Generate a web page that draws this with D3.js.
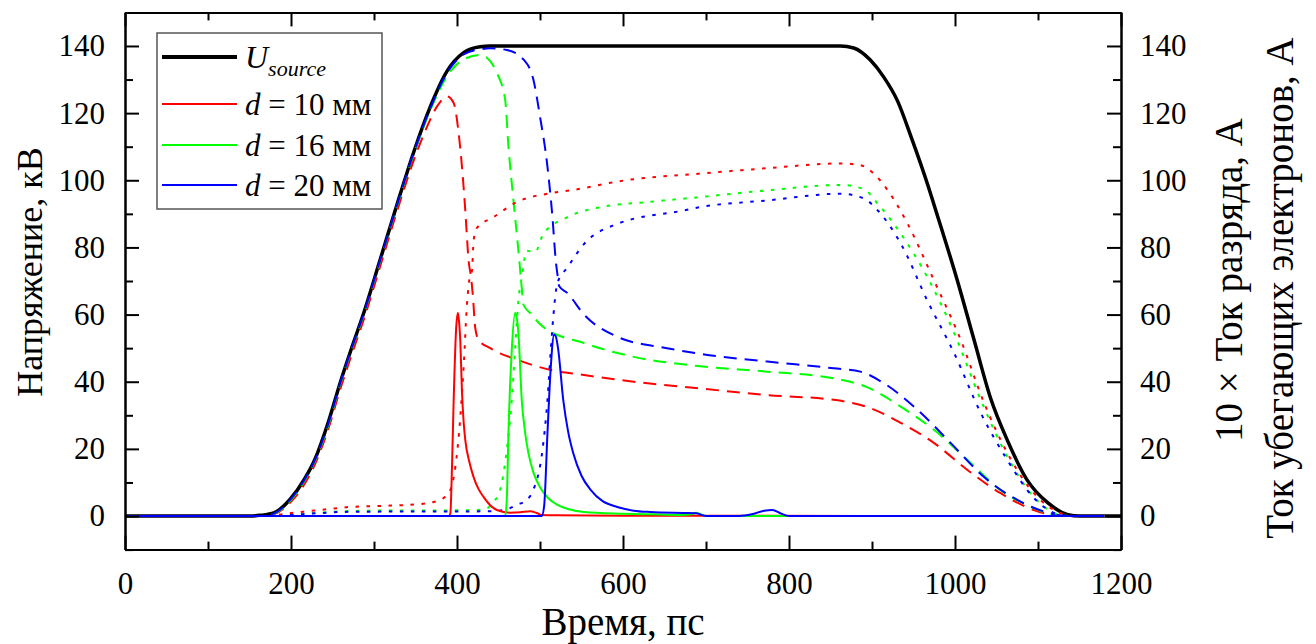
<!DOCTYPE html>
<html>
<head>
<meta charset="utf-8">
<script src="https://cdn.jsdelivr.net/npm/d3@7"></script>
<style>
    body { margin: 0; background: #fff; }
    svg, svg text { font-family: "Liberation Serif", "Times New Roman", Tinos, "Noto Serif", "DejaVu Serif", serif; }
</style>
</head>
<body>
<div id="chart"></div>
<script>
// source voltage
var tU = [0, 150, 163, 180, 199, 215, 229, 245, 259, 273, 287, 307, 328, 348, 368, 388, 408, 428, 440, 862, 878, 898, 914, 931, 947, 968, 975, 1003, 1023, 1043, 1063, 1087, 1112, 1136, 1150, 1200];
var vU = [0, 0, 0.2, 1, 5, 10.5, 17, 28, 39.5, 50, 60, 76, 93, 108.5, 122, 132.5, 138, 139.8, 140, 140, 139.4, 135.8, 130.8, 123.5, 113, 98, 92.5, 70, 52.4, 35, 22.6, 10.7, 3.9, 0.4, 0, 0];

// gap voltage (dashed)
var tDash10 = [0, 165, 180, 199, 215, 229, 245, 259, 273, 287, 307, 328, 348, 364, 376, 388, 396, 402, 406, 410, 414, 417, 419, 422, 426, 440, 473, 513, 553, 613, 693, 774, 854, 894, 935, 975, 1015, 1055, 1095, 1128, 1180];
var vDash10 = [0, 0, 0.6, 4, 9, 15.5, 26, 37.5, 48, 58, 74, 91, 106, 116, 122, 125, 123, 114, 104, 91, 76, 71, 66, 56, 52.5, 50, 46.5, 43.5, 42, 40, 38, 36, 34.6, 32.5, 27.7, 21.7, 13.7, 6.8, 1.8, 0, 0];
var tDash16 = [0, 165, 180, 199, 215, 229, 245, 259, 273, 287, 307, 328, 348, 368, 388, 408, 428, 436, 448, 458, 462, 468, 474, 478, 480, 488, 504, 553, 613, 693, 774, 854, 894, 935, 975, 1015, 1055, 1095, 1128, 1180];
var vDash16 = [0, 0, 0.7, 4.5, 10, 16.5, 27, 39, 49.5, 59.5, 75.5, 92.5, 108, 121, 131, 136, 137.3, 136.5, 132, 124, 110, 94, 79, 68, 63, 60.5, 56.3, 51.5, 47.4, 44.6, 43, 41, 38.4, 32.5, 25.6, 16.7, 7.7, 2.4, 0, 0];
var tDash20 = [0, 165, 180, 199, 215, 229, 245, 259, 273, 287, 307, 328, 348, 368, 388, 408, 428, 440, 460, 480, 492, 500, 509, 515, 519, 521, 523, 533, 553, 593, 653, 693, 774, 854, 886, 914, 955, 995, 1035, 1075, 1115, 1135, 1180];
var vDash20 = [0, 0, 0.8, 4.8, 10.3, 16.8, 27.5, 39.3, 49.8, 59.8, 75.8, 92.8, 108.3, 121.5, 132, 137.5, 139, 139.3, 138.8, 136, 130, 119, 104, 89, 76, 72, 68.5, 66.4, 60, 53.4, 50, 48.3, 46, 44, 43, 39.6, 31.6, 21.7, 11.6, 4.8, 0.8, 0, 0];

// 10 x discharge current (dotted)
var tDot10 = [0, 170, 191, 215, 243, 271, 292, 320, 352, 372, 384, 392, 398, 404, 408, 412, 416, 418, 420, 424, 444, 472, 509, 537, 603, 693, 774, 862, 886, 902, 919, 943, 975, 1007, 1035, 1063, 1095, 1128, 1145, 1180];
var vDot10 = [0, 0, 0.6, 1.3, 2, 2.7, 2.9, 3.1, 3.5, 4.2, 5.4, 7.8, 14.6, 29.5, 44.4, 63, 72, 73, 82, 85.8, 89, 93.5, 96, 97, 100, 102, 103.6, 105, 104.5, 102, 97, 87, 70, 52.4, 33.7, 18.8, 6.8, 0.8, 0, 0];
var tDot16 = [0, 180, 200, 230, 260, 300, 400, 432, 444, 452, 460, 466, 470, 474, 478, 484, 494, 504, 533, 573, 633, 693, 774, 862, 890, 907, 935, 967, 999, 1031, 1063, 1095, 1128, 1145, 1180];
var vDot16 = [0, 0, 0.3, 0.9, 1.4, 1.6, 1.7, 1.9, 4.2, 7.8, 19.7, 34.6, 49.5, 64.3, 71, 79, 78.6, 84, 89, 92, 93.6, 95, 97, 98.6, 97.4, 93, 84, 71, 54.5, 34.6, 17.7, 5.7, 0.3, 0, 0];
var tDot20 = [0, 180, 200, 230, 260, 300, 440, 460, 472, 485, 492, 503, 509, 513, 516, 521, 533, 553, 593, 673, 693, 774, 862, 890, 907, 935, 967, 999, 1031, 1063, 1095, 1128, 1145, 1180];
var vDot20 = [0, 0, 0.3, 0.8, 1.2, 1.3, 1.4, 2, 3.3, 5, 7.8, 19.7, 34.6, 49.5, 59.3, 69.4, 74, 81, 87, 91, 92, 94, 96, 94.6, 91, 81, 64, 48.5, 30.7, 16.7, 5.4, 0.3, 0, 0];

// runaway electron current (solid)
var tSol10 = [0, 390, 392, 394, 396, 399, 401, 402, 404, 406, 408, 410, 415, 420, 426, 432, 440, 448, 464, 476, 488, 496, 502, 520, 600, 1180];
var vSol10 = [0, 0, 0.8, 15, 34.6, 56, 60.5, 59, 52, 37, 28, 22.6, 16, 11.6, 8, 5.7, 3.2, 1.8, 1.0, 1.1, 1.4, 0.9, 0.3, 0.2, 0.1, 0];
var tSol16 = [0, 458, 460, 462, 466, 470, 472, 474, 478, 482, 486, 492, 500, 510, 521, 535, 553, 600, 633, 670, 682, 688, 694, 700, 1180];
var vSol16 = [0, 0, 5, 24.7, 49.5, 60.5, 59, 54.5, 34.6, 25, 18.8, 13, 8.6, 5.3, 3.3, 2, 1.2, 0.7, 0.5, 0.3, 0.5, 1, 0.5, 0, 0];
var tSol20 = [0, 502, 505, 509, 513, 517, 519, 522, 528, 534, 540, 550, 561, 575, 593, 613, 633, 673, 688, 700, 740, 755, 770, 780, 790, 800, 1180];
var vSol20 = [0, 0, 3, 24.7, 44.4, 54, 53.5, 49.5, 34.6, 25, 18.8, 12, 7.8, 4.5, 2.7, 1.6, 1.2, 0.9, 0.8, 0, 0, 0.5, 1.6, 1.8, 0.8, 0, 0];

var xTicks = [0, 200, 400, 600, 800, 1000, 1200];
var yTicks = [0, 20, 40, 60, 80, 100, 120, 140];
var legendLabels = ["10", "16", "20"];

var width = 1316, height = 644,
    margin = { top: 12.4, right: 195, bottom: 94.4, left: 125 },
    colors = ["#ff0000", "#00ff00", "#0000ff"],
    serif = "'Liberation Serif', 'Times New Roman', Tinos, 'Noto Serif', 'DejaVu Serif', serif";

function zip(t, v) {
    return t.map(function (d, i) { return { t: d, v: v[i] }; });
}

var svg = d3.select("#chart").append("svg")
    .attr("width", width)
    .attr("height", height)
    .attr("font-family", serif);

var x = d3.scaleLinear().domain([0, 1200]).range([margin.left, width - margin.right]);
var y = d3.scaleLinear().domain([-10, 150]).range([height - margin.bottom, margin.top]);

var line = d3.line()
    .x(function (d) { return x(d.t); })
    .y(function (d) { return y(d.v); })
    .curve(d3.curveMonotoneX);

// curves
svg.append("path")
    .datum(zip(tU, vU))
    .attr("fill", "none")
    .attr("stroke", "#000")
    .attr("stroke-width", 3.5)
    .attr("stroke-linejoin", "round")
    .attr("d", line);

var dashed = [zip(tDash10, vDash10), zip(tDash16, vDash16), zip(tDash20, vDash20)];
var dotted = [zip(tDot10, vDot10), zip(tDot16, vDot16), zip(tDot20, vDot20)];
var solid = [zip(tSol10, vSol10), zip(tSol16, vSol16), zip(tSol20, vSol20)];

function drawGroup(sets, dash) {
    sets.forEach(function (data, i) {
        svg.append("path")
            .datum(data)
            .attr("fill", "none")
            .attr("stroke", colors[i])
            .attr("stroke-width", 2)
            .attr("stroke-dasharray", dash)
            .attr("d", line);
    });
}
drawGroup(dashed, "13,8");
drawGroup(dotted, "3.5,7.5");
drawGroup(solid, null);

// axes
function styleAxis(g) {
    g.attr("font-family", serif);
    g.selectAll(".domain").attr("stroke", "#000").attr("stroke-width", 2);
    g.selectAll(".tick line").attr("stroke", "#000").attr("stroke-width", 2);
    g.selectAll("text").attr("font-family", serif).attr("font-size", 31).attr("fill", "#000");
}
var minorX = d3.range(100, 1200, 200);
var minorY = d3.range(-10, 150, 20);
var fmt = d3.format("d");

svg.append("g")
    .attr("transform", "translate(0," + y(-10) + ")")
    .call(d3.axisBottom(x).tickValues(xTicks).tickFormat(fmt).tickSizeInner(-14).tickSizeOuter(0).tickPadding(22))
    .call(styleAxis);
svg.append("g")
    .attr("transform", "translate(0," + y(-10) + ")")
    .call(d3.axisBottom(x).tickValues(minorX).tickSizeInner(-8).tickSizeOuter(0).tickFormat(""))
    .call(styleAxis);
svg.append("g")
    .attr("transform", "translate(0," + y(150) + ")")
    .call(d3.axisTop(x).tickValues(xTicks).tickSizeInner(-14).tickSizeOuter(0).tickFormat(""))
    .call(styleAxis);
svg.append("g")
    .attr("transform", "translate(0," + y(150) + ")")
    .call(d3.axisTop(x).tickValues(minorX).tickSizeInner(-8).tickSizeOuter(0).tickFormat(""))
    .call(styleAxis);
svg.append("g")
    .attr("transform", "translate(" + x(0) + ",0)")
    .call(d3.axisLeft(y).tickValues(yTicks).tickFormat(fmt).tickSizeInner(-14).tickSizeOuter(0).tickPadding(20))
    .call(styleAxis);
svg.append("g")
    .attr("transform", "translate(" + x(0) + ",0)")
    .call(d3.axisLeft(y).tickValues(minorY).tickSizeInner(-8).tickSizeOuter(0).tickFormat(""))
    .call(styleAxis);
svg.append("g")
    .attr("transform", "translate(" + x(1200) + ",0)")
    .call(d3.axisRight(y).tickValues(yTicks).tickFormat(fmt).tickSizeInner(-14).tickSizeOuter(0).tickPadding(19))
    .call(styleAxis);
svg.append("g")
    .attr("transform", "translate(" + x(1200) + ",0)")
    .call(d3.axisRight(y).tickValues(minorY).tickSizeInner(-8).tickSizeOuter(0).tickFormat(""))
    .call(styleAxis);

// axis titles
svg.append("text")
    .attr("x", (x(0) + x(1200)) / 2)
    .attr("y", 635)
    .attr("text-anchor", "middle")
    .attr("font-size", 39)
    .text("Время, пс");
svg.append("text")
    .attr("transform", "translate(42,272) rotate(-90)")
    .attr("text-anchor", "middle")
    .attr("font-size", 36)
    .text("Напряжение, кВ");
svg.append("text")
    .attr("transform", "translate(1242,280) rotate(-90)")
    .attr("text-anchor", "middle")
    .attr("font-size", 39)
    .text("10 × Ток разряда, А");
svg.append("text")
    .attr("transform", "translate(1293,288) rotate(-90)")
    .attr("text-anchor", "middle")
    .attr("font-size", 39)
    .text("Ток убегающих электронов, А");

// legend
var legend = svg.append("g");
legend.append("rect")
    .attr("x", 157).attr("y", 33)
    .attr("width", 225).attr("height", 176)
    .attr("fill", "#fff")
    .attr("stroke", "#555")
    .attr("stroke-width", 1.5);

legend.append("line")
    .attr("x1", 162).attr("x2", 237)
    .attr("y1", 57).attr("y2", 57)
    .attr("stroke", "#000").attr("stroke-width", 4);
var uText = legend.append("text")
    .attr("x", 245).attr("y", 68)
    .attr("font-size", 32)
    .attr("font-style", "italic");
uText.append("tspan").text("U");
uText.append("tspan").attr("font-size", 22).attr("dy", 8).text("source");

var rowY = [104, 145, 185];
legendLabels.forEach(function (lab, i) {
    legend.append("line")
        .attr("x1", 162).attr("x2", 237)
        .attr("y1", rowY[i]).attr("y2", rowY[i])
        .attr("stroke", colors[i]).attr("stroke-width", 2);
    var t = legend.append("text")
        .attr("x", 245).attr("y", rowY[i] + 11)
        .attr("font-size", 31);
    t.append("tspan").attr("font-style", "italic").text("d");
    t.append("tspan").text(" = " + lab + " мм");
});
</script>
</body>
</html>
